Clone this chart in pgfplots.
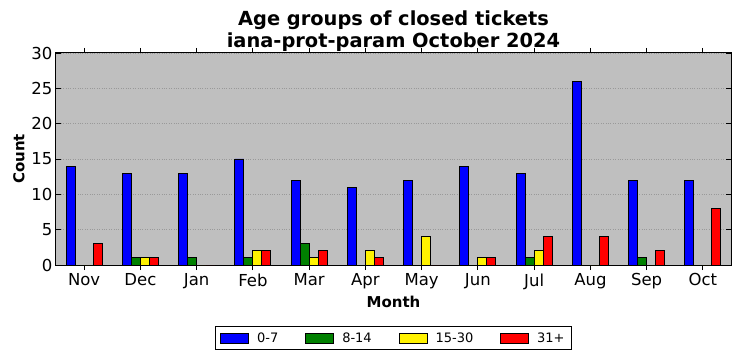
\documentclass[border=0pt]{standalone}
\usepackage{fontspec}
\setmainfont{DejaVu Sans}
\usepackage{pgfplots}
\pgfplotsset{compat=1.18}
\definecolor{bgc}{RGB}{191,191,191}
\definecolor{mgreen}{RGB}{0,128,0}
\begin{document}
\begin{tikzpicture}
\begin{axis}[
  scale only axis, width=675pt, height=212pt,
  xmin=-0.5, xmax=11.5, ymin=0, ymax=30,
  xtick={0,...,11},
  xticklabels={Nov,Dec,Jan,Feb,Mar,Apr,May,Jun,Jul,Aug,Sep,Oct},
  ytick={0,5,...,30},
  tick align=inside, major tick length=5pt,
  tick style={black, line width=0.8pt},
  axis line style={black, line width=1pt},
  axis background/.style={fill=bgc},
  ymajorgrids, grid style={gray!80, dotted, line width=0.8pt},
  /pgf/number format/assume math mode=true,
  ticklabel style={font=\fontsize{16.5}{18}\selectfont},
  title={Age groups of closed tickets\\iana-prot-param October 2024},
  title style={align=center, font=\bfseries\fontsize{19.4}{22}\selectfont, at={(0.5,1)}, anchor=south, yshift=-8pt},
  xlabel={Month}, ylabel={Count},
  label style={font=\bfseries\fontsize{15}{17}\selectfont},
  ybar, bar width=0.16,
  legend columns=4,
  legend style={at={(0.5,0)}, anchor=north, yshift=-61pt, draw=black, line width=0.8pt,
    font=\fontsize{13}{15}\selectfont, inner xsep=5pt, inner ysep=4pt,
    /tikz/every odd column/.append style={column sep=6pt},
    /tikz/every even column/.append style={column sep=25pt}},
  legend image code/.code={\draw[#1, line width=0.8pt] (0pt,-5pt) rectangle (28pt,5pt);},
  every axis plot/.append style={draw=black, line width=0.9pt},
]
\addplot[fill=blue, bar shift=-0.24] coordinates {(0,14)(1,13)(2,13)(3,15)(4,12)(5,11)(6,12)(7,14)(8,13)(9,26)(10,12)(11,12)};
\addplot[fill=mgreen, bar shift=-0.08] coordinates {(0,0)(1,1)(2,1)(3,1)(4,3)(5,0)(6,0)(7,0)(8,1)(9,0)(10,1)(11,0)};
\addplot[fill=yellow, bar shift=0.08] coordinates {(0,0)(1,1)(2,0)(3,2)(4,1)(5,2)(6,4)(7,1)(8,2)(9,0)(10,0)(11,0)};
\addplot[fill=red, bar shift=0.24] coordinates {(0,3)(1,1)(2,0)(3,2)(4,2)(5,1)(6,0)(7,1)(8,4)(9,4)(10,2)(11,8)};
\legend{0-7,8-14,15-30,31+}
\end{axis}
\path[use as bounding box] (-56pt,-96pt) rectangle (685pt,265pt);
\end{tikzpicture}
\end{document}
